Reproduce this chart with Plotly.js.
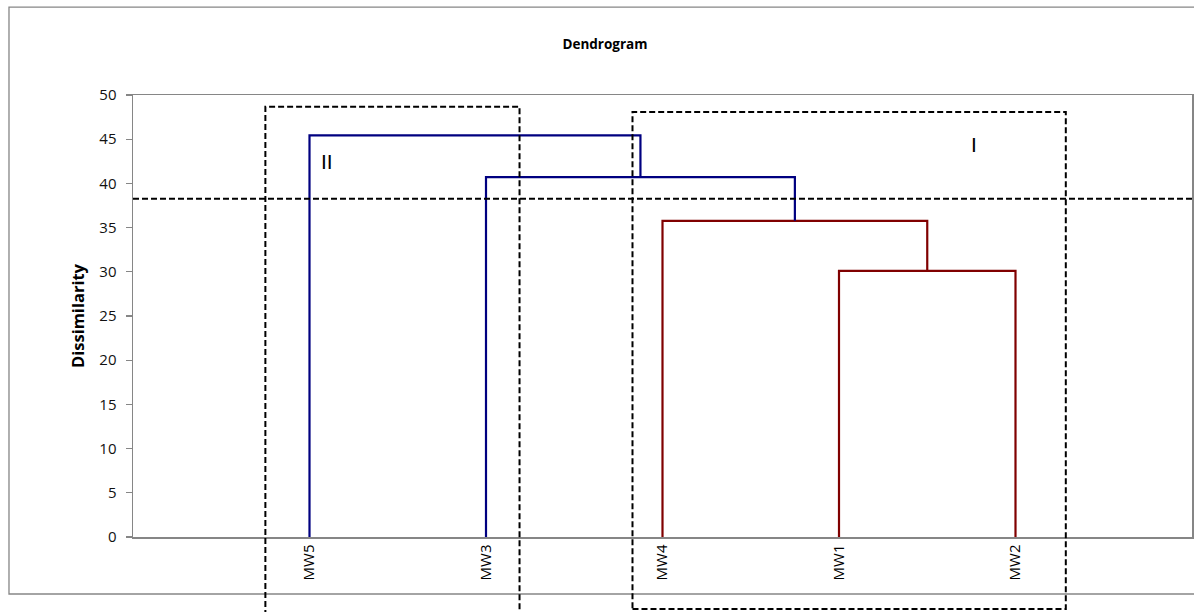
<!DOCTYPE html>
<html>
<head>
<meta charset="utf-8">
<script src="https://cdn.plot.ly/plotly-3.0.1.min.js"></script>
<style>html,body{margin:0;padding:0;background:#fff;}#chart{width:1194px;height:612px;}</style>
</head>
<body>
<div id="chart"></div>
<script>
// Leaves in dendrogram order
const leaves = ['MW5', 'MW3', 'MW4', 'MW1', 'MW2'];
// Merges: node ids 0..4 are leaves; merge k creates node 5+k
const mergeLeft   = [3, 2, 1, 0];
const mergeRight  = [4, 5, 6, 7];
const mergeHeight = [30.1, 35.77, 40.7, 45.43];
const mergeGroup  = ['I', 'I', 'II', 'II'];
// Truncation level
const cutLevel = 38.25;
// Cluster labels
const clusterNames = ['II', 'I'];
// Y tick values
const yTicks = [0, 5, 10, 15, 20, 25, 30, 35, 40, 45, 50];

const groupColor = {I: '#800000', II: '#000080'};
const YMAX = 50, XMAX = 6;

// node positions
const nodeX = leaves.map((_, i) => i + 1);
const nodeH = leaves.map(() => 0);
const traces = [];
for (let k = 0; k < mergeHeight.length; k++) {
  const a = mergeLeft[k], b = mergeRight[k], h = mergeHeight[k];
  traces.push({
    type: 'scatter', mode: 'lines',
    x: [nodeX[a], nodeX[a], nodeX[b], nodeX[b]],
    y: [nodeH[a], h, h, nodeH[b]],
    line: {color: groupColor[mergeGroup[k]], width: 2.2},
    hoverinfo: 'skip', showlegend: false
  });
  nodeX.push((nodeX[a] + nodeX[b]) / 2);
  nodeH.push(h);
}

const px = v => v / XMAX, py = v => v / YMAX;
const dashed = {color: '#000', width: 2, dash: '6px,3px'};
const shapes = [
  // outer chart frame
  {type: 'rect', xref: 'paper', yref: 'paper', x0: -0.1171, x1: 1.02, y0: -0.129, y1: 1.199,
   line: {color: '#868686', width: 1.3}, layer: 'below'},
  // truncation line
  {type: 'line', xref: 'paper', yref: 'paper', x0: 0, x1: 1.02, y0: py(cutLevel), y1: py(cutLevel), line: dashed},
  // cluster II box
  {type: 'rect', xref: 'paper', yref: 'paper', x0: px(0.75), x1: px(2.19), y0: py(-12), y1: py(48.68), line: dashed},
  // cluster I box
  {type: 'rect', xref: 'paper', yref: 'paper', x0: px(2.83), x1: px(5.285), y0: py(-8.15), y1: py(48.08), line: dashed}
];

const annotations = [
  {x: 1.10, y: 42.5, xref: 'x', yref: 'y', text: clusterNames[0], showarrow: false,
   font: {family: 'Liberation Sans, Arial, sans-serif', size: 21, color: '#000'}},
  {x: 4.765, y: 44.4, xref: 'x', yref: 'y', text: clusterNames[1], showarrow: false,
   font: {family: 'Liberation Sans, Arial, sans-serif', size: 21, color: '#000'}}
];

const layout = {
  width: 1194, height: 612,
  margin: {l: 133, r: 2, t: 95, b: 75},
  paper_bgcolor: '#fff', plot_bgcolor: '#fff',
  font: {family: 'Open Sans, Liberation Sans, sans-serif', size: 14, color: '#000'},
  title: {text: '<b>Dendrogram</b>', xref: 'container', yref: 'container', x: 0.5067, y: 1 - 44 / 612,
          xanchor: 'center', yanchor: 'middle', font: {size: 13.5, color: '#000'}},
  xaxis: {range: [0, XMAX], tickvals: leaves.map((_, i) => i + 1), ticktext: leaves,
          tickangle: -90, ticks: '', showgrid: false, zeroline: false,
          showline: true, mirror: true, linecolor: '#868686', linewidth: 1.5,
          tickfont: {size: 15, color: '#000'}, fixedrange: true},
  yaxis: {range: [0, YMAX], tickvals: yTicks, ticks: 'outside', ticklen: 6,
          tickcolor: '#868686', tickwidth: 1.3, showgrid: false, zeroline: false,
          showline: true, mirror: true, linecolor: '#868686', linewidth: 1.5,
          ticklabelstandoff: 6,
          tickfont: {size: 15, color: '#111'},
          title: {text: '<b>Dissimilarity</b>', font: {size: 16.5, color: '#000'}, standoff: 10}},
  shapes: shapes,
  annotations: annotations,
  showlegend: false
};

Plotly.newPlot('chart', traces, layout, {displayModeBar: false, staticPlot: true});
</script>
</body>
</html>
